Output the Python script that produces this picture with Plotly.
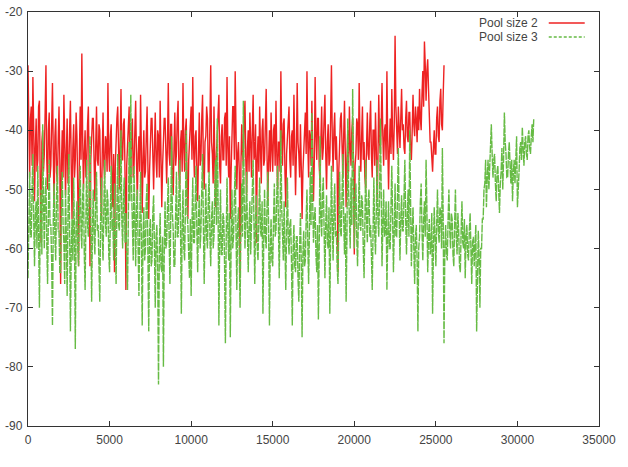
import plotly.graph_objects as go

# Sample spacing (x units) of the two recorded series
step = 50
series_names = ["Pool size 2", "Pool size 3"]

pool2 = [
    -29, -44, -48, -38, -36, -46, -31, -40, -52, -43, -38, -47, -45, -36, -35, -49, -59, -42, -40, -47,
    -44, -37, -29, -45, -50, -40, -37, -48, -46, -39, -32, -44, -53, -41, -38, -47, -49, -42, -36, -45,
    -66, -46, -40, -48, -34, -42, -51, -44, -38, -49, -47, -40, -35, -46, -55, -43, -39, -48, -45, -37,
    -41, -50, -63, -44, -36, -45, -27, -41, -50, -44, -40, -48, -46, -39, -36, -47, -63, -45, -42, -38,
    -38, -47, -52, -43, -36, -45, -46, -39, -40, -49, -55, -44, -37, -46, -48, -41, -42, -47, -32, -44,
    -47, -41, -39, -48, -53, -44, -64, -46, -41, -38, -36, -47, -50, -42, -33, -45, -45, -39, -38, -48,
    -67, -46, -42, -38, -36, -47, -49, -41, -38, -48, -46, -40, -35, -45, -52, -44, -41, -47, -34, -43,
    -54, -45, -40, -48, -47, -41, -36, -46, -55, -47, -42, -38, -38, -48, -50, -43, -37, -45, -48, -40,
    -41, -48, -35, -44, -53, -46, -43, -38, -38, -47, -49, -42, -32, -44, -46, -39, -39, -48, -51, -43,
    -37, -46, -44, -38, -35, -47, -50, -42, -40, -47, -32, -43, -47, -40, -38, -48, -55, -45, -42, -37,
    -36, -45, -31, -43, -48, -41, -40, -47, -52, -44, -37, -46, -45, -38, -34, -46, -50, -42, -41, -36,
    -38, -47, -47, -39, -29, -42, -44, -49, -36, -45, -53, -44, -40, -37, -34, -46, -49, -41, -39, -45,
    -45, -38, -37, -46, -31, -43, -48, -41, -55, -47, -41, -36, -36, -45, -30, -42, -50, -44, -42, -47,
    -65, -46, -39, -44, -46, -38, -35, -45, -51, -43, -40, -47, -37, -42, -48, -40, -34, -45, -44, -39,
    -59, -45, -41, -47, -36, -43, -49, -40, -38, -46, -45, -39, -33, -44, -52, -45, -40, -47, -37, -43,
    -47, -40, -39, -46, -35, -44, -50, -42, -42, -47, -30, -41, -46, -39, -38, -47, -53, -44, -41, -37,
    -36, -45, -48, -41, -40, -46, -34, -43, -51, -44, -32, -42, -44, -48, -39, -46, -55, -47, -43, -38,
    -37, -44, -30, -42, -48, -40, -41, -46, -35, -44, -52, -45, -31, -41, -45, -38, -38, -46, -49, -42,
    -36, -45, -43, -38, -34, -44, -50, -42, -39, -46, -45, -38, -29, -41, -47, -40, -37, -45, -41, -46,
    -64, -47, -42, -38, -37, -46, -48, -41, -35, -44, -53, -45, -40, -47, -36, -43, -46, -40, -38, -45,
    -61, -46, -44, -38, -39, -45, -32, -42, -47, -41, -36, -45, -42, -48, -50, -43, -37, -44, -45, -39,
    -35, -44, -48, -40, -40, -46, -37, -43, -52, -45, -34, -42, -44, -39, -32, -41, -46, -40, -39, -45,
    -30, -42, -50, -43, -38, -44, -33, -41, -45, -39, -24, -36, -40, -44, -36, -42, -43, -38, -33, -40,
    -39, -43, -44, -38, -35, -41, -42, -37, -37, -43, -45, -40, -34, -39, -41, -36, -38, -42, -36, -40,
    -33, -38, -40, -34, -30, -36, -25, -29, -35, -30, -28, -33, -38, -42, -42, -45, -47, -43, -40, -44,
    -44, -38, -36, -41, -42, -35, -33, -39, -40, -34, -29,
]

pool3 = [
    -65, -52, -47, -58, -58, -50, -44, -55, -63, -54, -52, -60, -46, -57, -70, -55, -50, -61, -39, -52,
    -60, -51, -48, -59, -66, -54, -45, -56, -56, -62, -73, -55, -49, -58, -62, -51, -46, -57, -57, -64,
    -64, -53, -47, -56, -59, -66, -50, -58, -68, -55, -44, -57, -74, -60, -55, -62, -48, -58, -77, -56,
    -52, -60, -63, -53, -46, -57, -60, -51, -49, -61, -67, -55, -45, -56, -58, -50, -41, -55, -69, -57,
    -50, -58, -61, -52, -47, -57, -56, -63, -69, -55, -48, -58, -62, -53, -45, -56, -58, -50, -52, -61,
    -64, -54, -46, -57, -55, -62, -49, -58, -66, -53, -44, -56, -57, -50, -40, -55, -60, -52, -48, -59,
    -54, -62, -67, -55, -42, -52, -34, -50, -58, -62, -46, -57, -63, -53, -50, -60, -68, -56, -47, -58,
    -73, -58, -53, -62, -60, -52, -49, -61, -74, -57, -55, -63, -62, -54, -51, -60, -70, -58, -56, -64,
    -83, -60, -54, -63, -64, -58, -80, -61, -52, -60, -59, -53, -48, -58, -66, -55, -41, -54, -57, -63,
    -63, -54, -47, -58, -58, -51, -45, -57, -71, -56, -50, -60, -62, -53, -40, -54, -56, -61, -65, -55,
    -68, -56, -48, -59, -59, -52, -46, -57, -64, -55, -51, -60, -57, -50, -44, -56, -66, -57, -49, -58,
    -60, -52, -47, -58, -63, -55, -52, -60, -58, -50, -45, -56, -38, -52, -73, -58, -50, -61, -61, -54,
    -55, -63, -76, -58, -48, -57, -62, -54, -75, -59, -50, -60, -58, -51, -46, -57, -67, -56, -53, -61,
    -70, -57, -49, -58, -35, -51, -60, -55, -47, -57, -64, -56, -52, -61, -57, -50, -45, -56, -66, -55,
    -51, -60, -62, -54, -48, -57, -58, -52, -71, -59, -50, -58, -60, -53, -47, -57, -73, -60, -55, -62,
    -63, -55, -49, -58, -57, -51, -46, -56, -65, -55, -40, -53, -59, -62, -52, -60, -67, -57, -48, -58,
    -61, -56, -55, -62, -73, -60, -56, -63, -64, -58, -58, -65, -69, -60, -54, -62, -75, -61, -57, -63,
    -62, -55, -50, -59, -66, -57, -47, -56, -37, -52, -59, -55, -53, -61, -64, -56, -72, -60, -41, -55,
    -58, -51, -48, -57, -65, -56, -51, -59, -60, -53, -71, -58, -46, -55, -62, -54, -49, -58, -57, -63,
    -66, -56, -47, -57, -58, -51, -44, -55, -61, -54, -69, -58, -38, -50, -55, -60, -48, -56, -33, -50,
    -60, -53, -49, -58, -63, -55, -46, -56, -57, -51, -52, -60, -65, -56, -45, -55, -59, -52, -50, -58,
    -56, -61, -67, -57, -48, -57, -61, -54, -45, -55, -58, -51, -38, -50, -63, -56, -50, -58, -57, -52,
    -67, -58, -52, -60, -60, -53, -46, -55, -64, -57, -49, -58, -58, -51, -43, -54, -62, -55, -51, -57,
    -57, -51, -45, -55, -61, -54, -50, -58, -40, -52, -63, -57, -53, -60, -66, -58, -56, -62, -74, -60,
    -58, -52, -49, -57, -62, -55, -52, -58, -45, -53, -64, -58, -55, -61, -60, -54, -71, -60, -53, -58,
    -63, -56, -50, -57, -59, -53, -54, -60, -43, -55, -76, -60, -56, -61, -62, -55, -50, -57, -60, -54,
    -55, -61, -63, -56, -50, -58, -61, -54, -57, -63, -64, -57, -52, -59, -60, -55, -65, -58, -56, -61,
    -62, -57, -54, -60, -66, -59, -58, -63, -60, -56, -74, -62, -57, -61, -70, -60, -60, -55, -55, -50,
    -49, -45, -53, -48, -45, -50, -47, -43, -39, -44, -48, -45, -44, -49, -52, -47, -46, -50, -54, -49,
    -47, -43, -50, -45, -37, -42, -44, -48, -48, -44, -42, -46, -49, -45, -52, -47, -45, -49, -44, -41,
    -53, -48, -47, -43, -42, -45, -39.5, -43, -46, -42, -41, -44, -45, -41, -40, -43, -44, -41, -39, -42,
    -38,
]

x_ticks = [0, 5000, 10000, 15000, 20000, 25000, 30000, 35000]
y_ticks = [-90, -80, -70, -60, -50, -40, -30, -20]

red = "#ee2222"
green = "#66bb44"
font_family = "Liberation Sans, Arial, sans-serif"

fig = go.Figure()
fig.add_trace(go.Scatter(
    x0=0, dx=step, y=pool2, mode="lines", name=series_names[0],
    line=dict(color=red, width=1.4), showlegend=False,
))
fig.add_trace(go.Scatter(
    x0=0, dx=step, y=pool3, mode="lines", name=series_names[1],
    line=dict(color=green, width=1.4, dash="8px,1px"), showlegend=False,
))

axis_common = dict(
    showline=True, linecolor="#333333", linewidth=1.3, mirror="ticks",
    ticks="inside", ticklen=5, tickwidth=1, tickcolor="#333333",
    showgrid=False, zeroline=False, automargin=False,
    tickfont=dict(family=font_family, size=12, color="#444444"),
)

fig.update_layout(
    width=628, height=467,
    margin=dict(l=28, r=29, t=12, b=41),
    paper_bgcolor="white", plot_bgcolor="white",
    xaxis=dict(range=[0, 35000], tickvals=x_ticks,
               ticktext=[str(v) for v in x_ticks], ticklabelstandoff=2,
               **axis_common),
    yaxis=dict(range=[-90, -20], tickvals=y_ticks,
               ticktext=[str(v) for v in y_ticks], ticklabelstandoff=2,
               **axis_common),
)

# gnuplot-style key: text right-aligned, line sample to the right
key_rows = [(series_names[0], red, "solid", 0.9734), (series_names[1], green, "3px,2px", 0.9396)]
for name, col, dash, yy in key_rows:
    fig.add_annotation(
        xref="paper", yref="paper", x=0.897, y=yy, text=name,
        showarrow=False, xanchor="right", yanchor="middle",
        font=dict(family=font_family, size=12, color="#444444"),
    )
    fig.add_shape(
        type="line", xref="paper", yref="paper",
        x0=0.912, x1=0.975, y0=yy, y1=yy,
        line=dict(color=col, width=1.3, dash=dash),
    )

fig.write_html("out.html")
